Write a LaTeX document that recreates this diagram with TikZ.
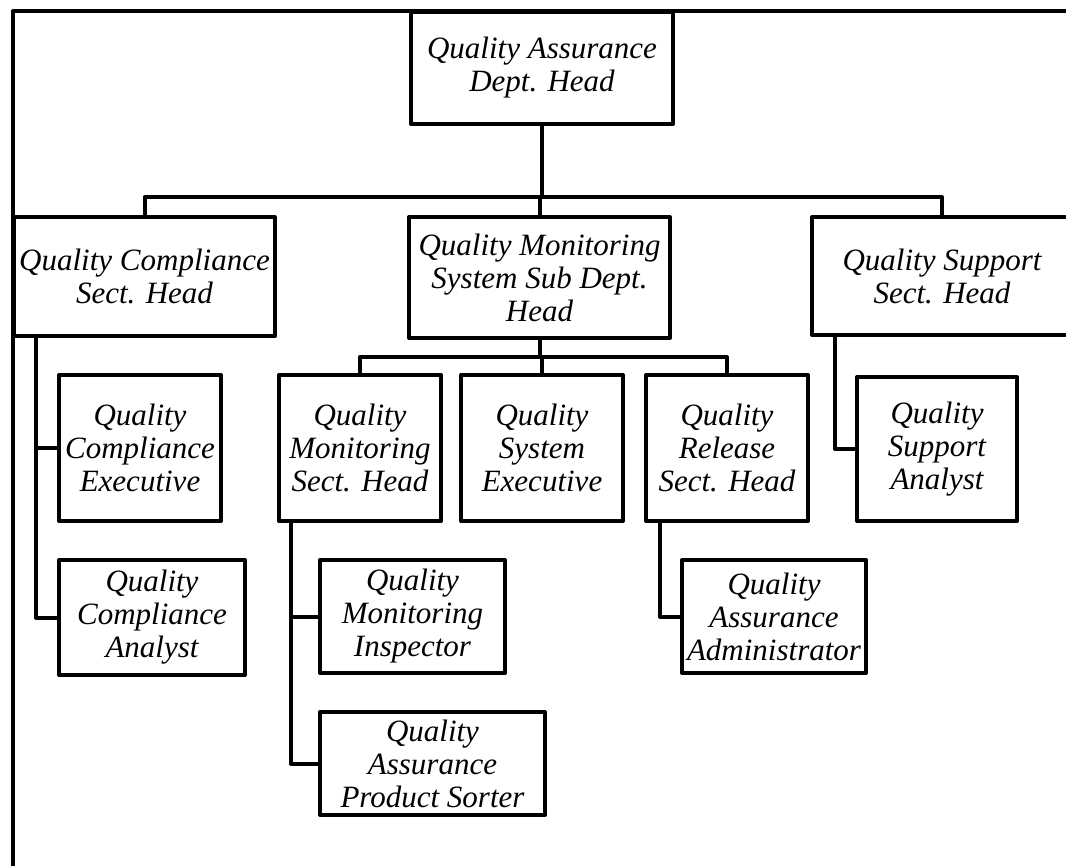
\documentclass[tikz,border=0pt]{standalone}
\usepackage{fontspec}
\setmainfont{Liberation Serif}
\begin{document}
\begin{tikzpicture}[x=1pt,y=-1pt,line width=4pt,line join=round,
  post/.style={draw,rectangle,align=center,inner sep=0pt,
    font=\itshape\fontsize{31pt}{33pt}\selectfont}]
  \useasboundingbox (0,0) rectangle (1066,866);
  \draw (13,11) rectangle (1100,900);
  % boxes
  \node[post,minimum width=262pt,minimum height=112pt] (qahead) at (542,68) {Quality Assurance\\Dept. Head};
  \node[post,minimum width=261pt,minimum height=119pt] (qcs) at (144.5,276.5) {Quality Compliance\\Sect. Head};
  \node[post,minimum width=261pt,minimum height=121pt] (qms) at (539.5,277.5) {Quality Monitoring\\System Sub Dept.\\Head};
  \node[post,minimum width=260pt,minimum height=118pt] (qss) at (942,276) {Quality Support\\Sect. Head};
  \node[post,minimum width=162pt,minimum height=146pt] (qce) at (140,448) {Quality\\Compliance\\Executive};
  \node[post,minimum width=186pt,minimum height=115pt] (qca) at (152,617.5) {Quality\\Compliance\\Analyst};
  \node[post,minimum width=162pt,minimum height=146pt] (qmh) at (360,448) {Quality\\Monitoring\\Sect. Head};
  \node[post,minimum width=162pt,minimum height=146pt] (qse) at (542,448) {Quality\\System\\Executive};
  \node[post,minimum width=162pt,minimum height=146pt] (qrh) at (727,448) {Quality\\Release\\Sect. Head};
  \node[post,minimum width=185pt,minimum height=113pt] (qmi) at (412.5,616.5) {Quality\\Monitoring\\Inspector};
  \node[post,minimum width=225pt,minimum height=103pt] (qps) at (432.5,763.5) {Quality\\Assurance\\Product Sorter};
  \node[post,minimum width=184pt,minimum height=113pt] (qaa) at (774,616.5) {Quality\\Assurance\\Administrator};
  \node[post,minimum width=160pt,minimum height=144pt] (qsa) at (937,449) {Quality\\Support\\Analyst};
  % buses
  \coordinate (topbus) at (0,197);
  \coordinate (midbus) at (0,357);
  \draw (qahead.south) -- (qahead.south |- topbus);
  \draw (qcs.north) -- (qcs.north |- topbus) -- (qss.north |- topbus) -- (qss.north);
  \draw (qms.north) -- (qms.north |- topbus);
  \draw (qms.south) -- (qms.south |- midbus);
  \draw (qmh.north) -- (qmh.north |- midbus) -- (qrh.north |- midbus) -- (qrh.north);
  \draw (qse.north) -- (qse.north |- midbus);
  % side drops
  \coordinate (qcsdrop) at ([xshift=24pt]qcs.south west);
  \draw (qcsdrop) |- (qca.west);
  \draw (qcsdrop |- qce.west) -- (qce.west);
  \coordinate (qmhdrop) at ([xshift=14pt]qmh.south west);
  \draw (qmhdrop) |- (qps.west);
  \draw (qmhdrop |- qmi.west) -- (qmi.west);
  \coordinate (qrhdrop) at ([xshift=16pt]qrh.south west);
  \draw (qrhdrop) |- (qaa.west);
  \coordinate (qssdrop) at ([xshift=25pt]qss.south west);
  \draw (qssdrop) |- (qsa.west);
\end{tikzpicture}
\end{document}
